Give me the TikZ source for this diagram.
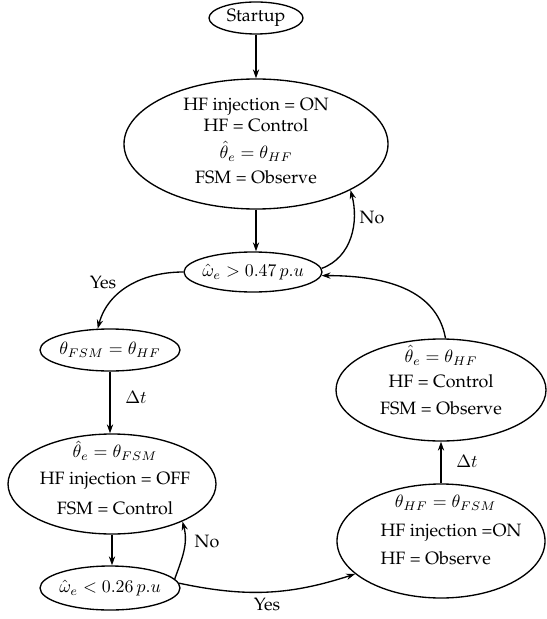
\documentclass[tikz,border=0pt]{standalone}
\usepackage[T1]{fontenc}
\usepackage{palatino}
\usetikzlibrary{arrows.meta,shapes.geometric}
\newdimen\pxu \pxu=0.56pt
\begin{document}
\begin{tikzpicture}[x=0.56pt,y=-0.56pt, line width=0.75pt,
  st/.style={draw,ellipse,inner sep=0pt},
  txt/.style={align=center,inner sep=0pt},
  arr/.style={-{Stealth[length=5pt,width=3.5pt]}},
  lbl/.style={inner sep=0pt}]
\useasboundingbox (0,0) rectangle (547,619);
\node[st, minimum width=94\pxu, minimum height=32\pxu,
  label={[txt]center:Startup}] (S) at (256,18) {};
\node[st, minimum width=264\pxu, minimum height=130\pxu,
  label={[txt,yshift=3\pxu]center:{HF injection = ON\\[0pt] HF = Control\\[3pt] $\hat{\theta}_e=\theta_{HF}$\\[2pt] FSM = Observe}}] (T) at (256,144) {};
\node[st, minimum width=138\pxu, minimum height=40\pxu,
  label={[txt]center:{$\hat{\omega}_e>0.47\,p.u$}}] (C1) at (253,272) {};
\node[st, minimum width=140\pxu, minimum height=42\pxu,
  label={[txt]center:{$\theta_{FSM}=\theta_{HF}$}}] (F) at (110,350) {};
\node[st, minimum width=208\pxu, minimum height=100\pxu,
  label={[txt,yshift=6\pxu,xshift=3\pxu]center:{$\hat{\theta}_e=\theta_{FSM}$\\[3pt] HF injection = OFF\\[5pt] FSM = Control}}] (B) at (112,484) {};
\node[st, minimum width=140\pxu, minimum height=44\pxu,
  label={[txt]center:{$\hat{\omega}_e<0.26\,p.u$}}] (C2) at (110,588) {};
\node[st, minimum width=210\pxu, minimum height=102\pxu,
  label={[txt,yshift=10\pxu]center:{$\hat{\theta}_e=\theta_{HF}$\\[2pt] HF = Control\\[3pt] FSM = Observe}}] (R1) at (441,390) {};
\node[st, minimum width=208\pxu, minimum height=114\pxu,
  label={[txt,align=left,xshift=10\pxu,yshift=11\pxu]center:{\hspace*{8pt}$\theta_{HF}=\theta_{FSM}$\\[4pt] HF injection =ON\\[4pt] HF = Observe}}] (R2) at (441,541) {};

\node[lbl] (yes1) at (103,283) {Yes};
\node[lbl] (no1) at (372,218) {No};
\node[lbl] (dt1) at (136,397) {$\Delta t$};
\node[lbl] (no2) at (207,541) {No};
\node[lbl] (yes2) at (267,604) {Yes};
\node[lbl] (dt2) at (467,461) {$\Delta t$};

\draw[arr] (S.south) -- (S.south |- T.north);
\draw[arr] (T.south) -- (T.south |- C1.north);
\draw[arr] (C1.3) to[out=20,in=-75] (T.-26);
\draw[arr] (C1.west) to[out=180,in=75] (F.120);
\draw[arr] (F.south) -- (F.south |- B.north);
\draw[arr] (B.south) -- (B.south |- C2.north);
\draw[arr] (C2.8) to[out=70,in=-75] (B.-28);
\draw[arr] (C2.4) to[out=-12,in=198] (R2.201);
\draw[arr] (R2.north) -- (R2.north |- R1.south);
\draw[arr] (R1.85) to[out=100,in=0] (C1.-3);
\end{tikzpicture}
\end{document}
